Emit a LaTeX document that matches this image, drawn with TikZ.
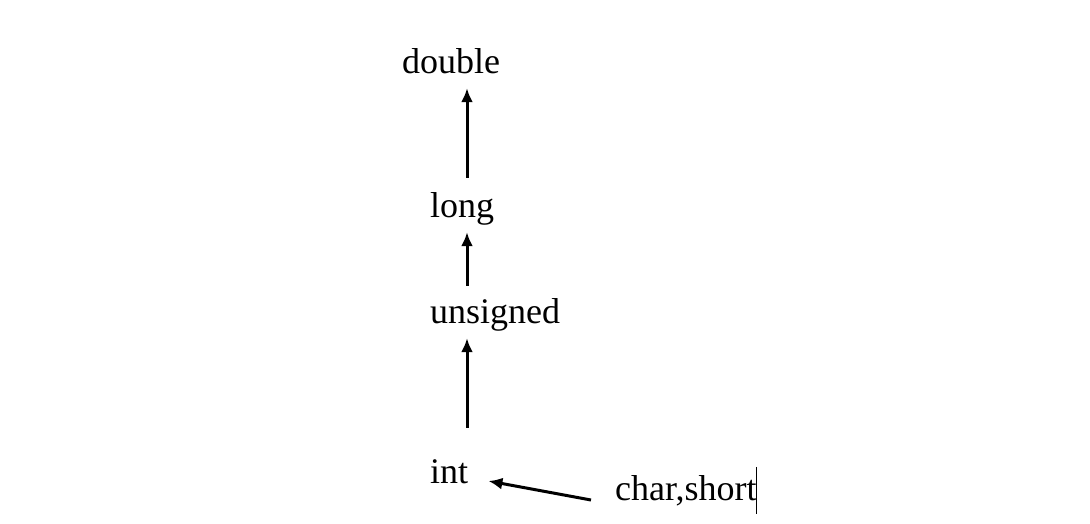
\documentclass[tikz,border=0pt]{standalone}
\usepackage{fontspec}
\setmainfont{Liberation Serif}
\usepackage{tikz}
\usetikzlibrary{arrows,arrows.meta}
\tikzstyle{type}=[anchor=base west,inner sep=0pt,text height=25pt,text depth=8pt,font=\fontsize{36}{40}\selectfont]
\tikzstyle{edge} = [draw,line width=3pt,-{Latex[length=14pt,width=12pt]},shorten >=7pt]
\tikzstyle{cursor} = [draw,line width=1pt]

\begin{document}
\begin{tikzpicture}[x=1pt,y=-1pt]
        \useasboundingbox (0,0) rectangle (1090,523);
        \node[type] (double) at (402,73) {double};
        \node[type] (long) at (430,217) {long};
        \node[type] (unsigned) at (430,323) {unsigned};
        \node[type] (int) at (430,483) {int};
        \node[type] (char) at (615,500) {char,short};
        \coordinate (ax) at (467,0);

        \draw[edge,shorten <=14pt] (long.north -| ax) to (double.south -| ax);
        \draw[edge,shorten <=12pt] (unsigned.north -| ax) to (long.south -| ax);
        \draw[edge,shorten <=30pt] (int.north -| ax) to (unsigned.south -| ax);
        \draw[edge,shorten >=0pt] ([shift={(-24,8.5)}]char.west) to ([shift={(20,6.5)}]int.east);

        %\draw[cursor] (char.north east) to (char.south east);
        \draw[cursor] ([yshift=8pt]char.north east) to ([yshift=-6pt]char.south east);
\end{tikzpicture}
\end{document}
